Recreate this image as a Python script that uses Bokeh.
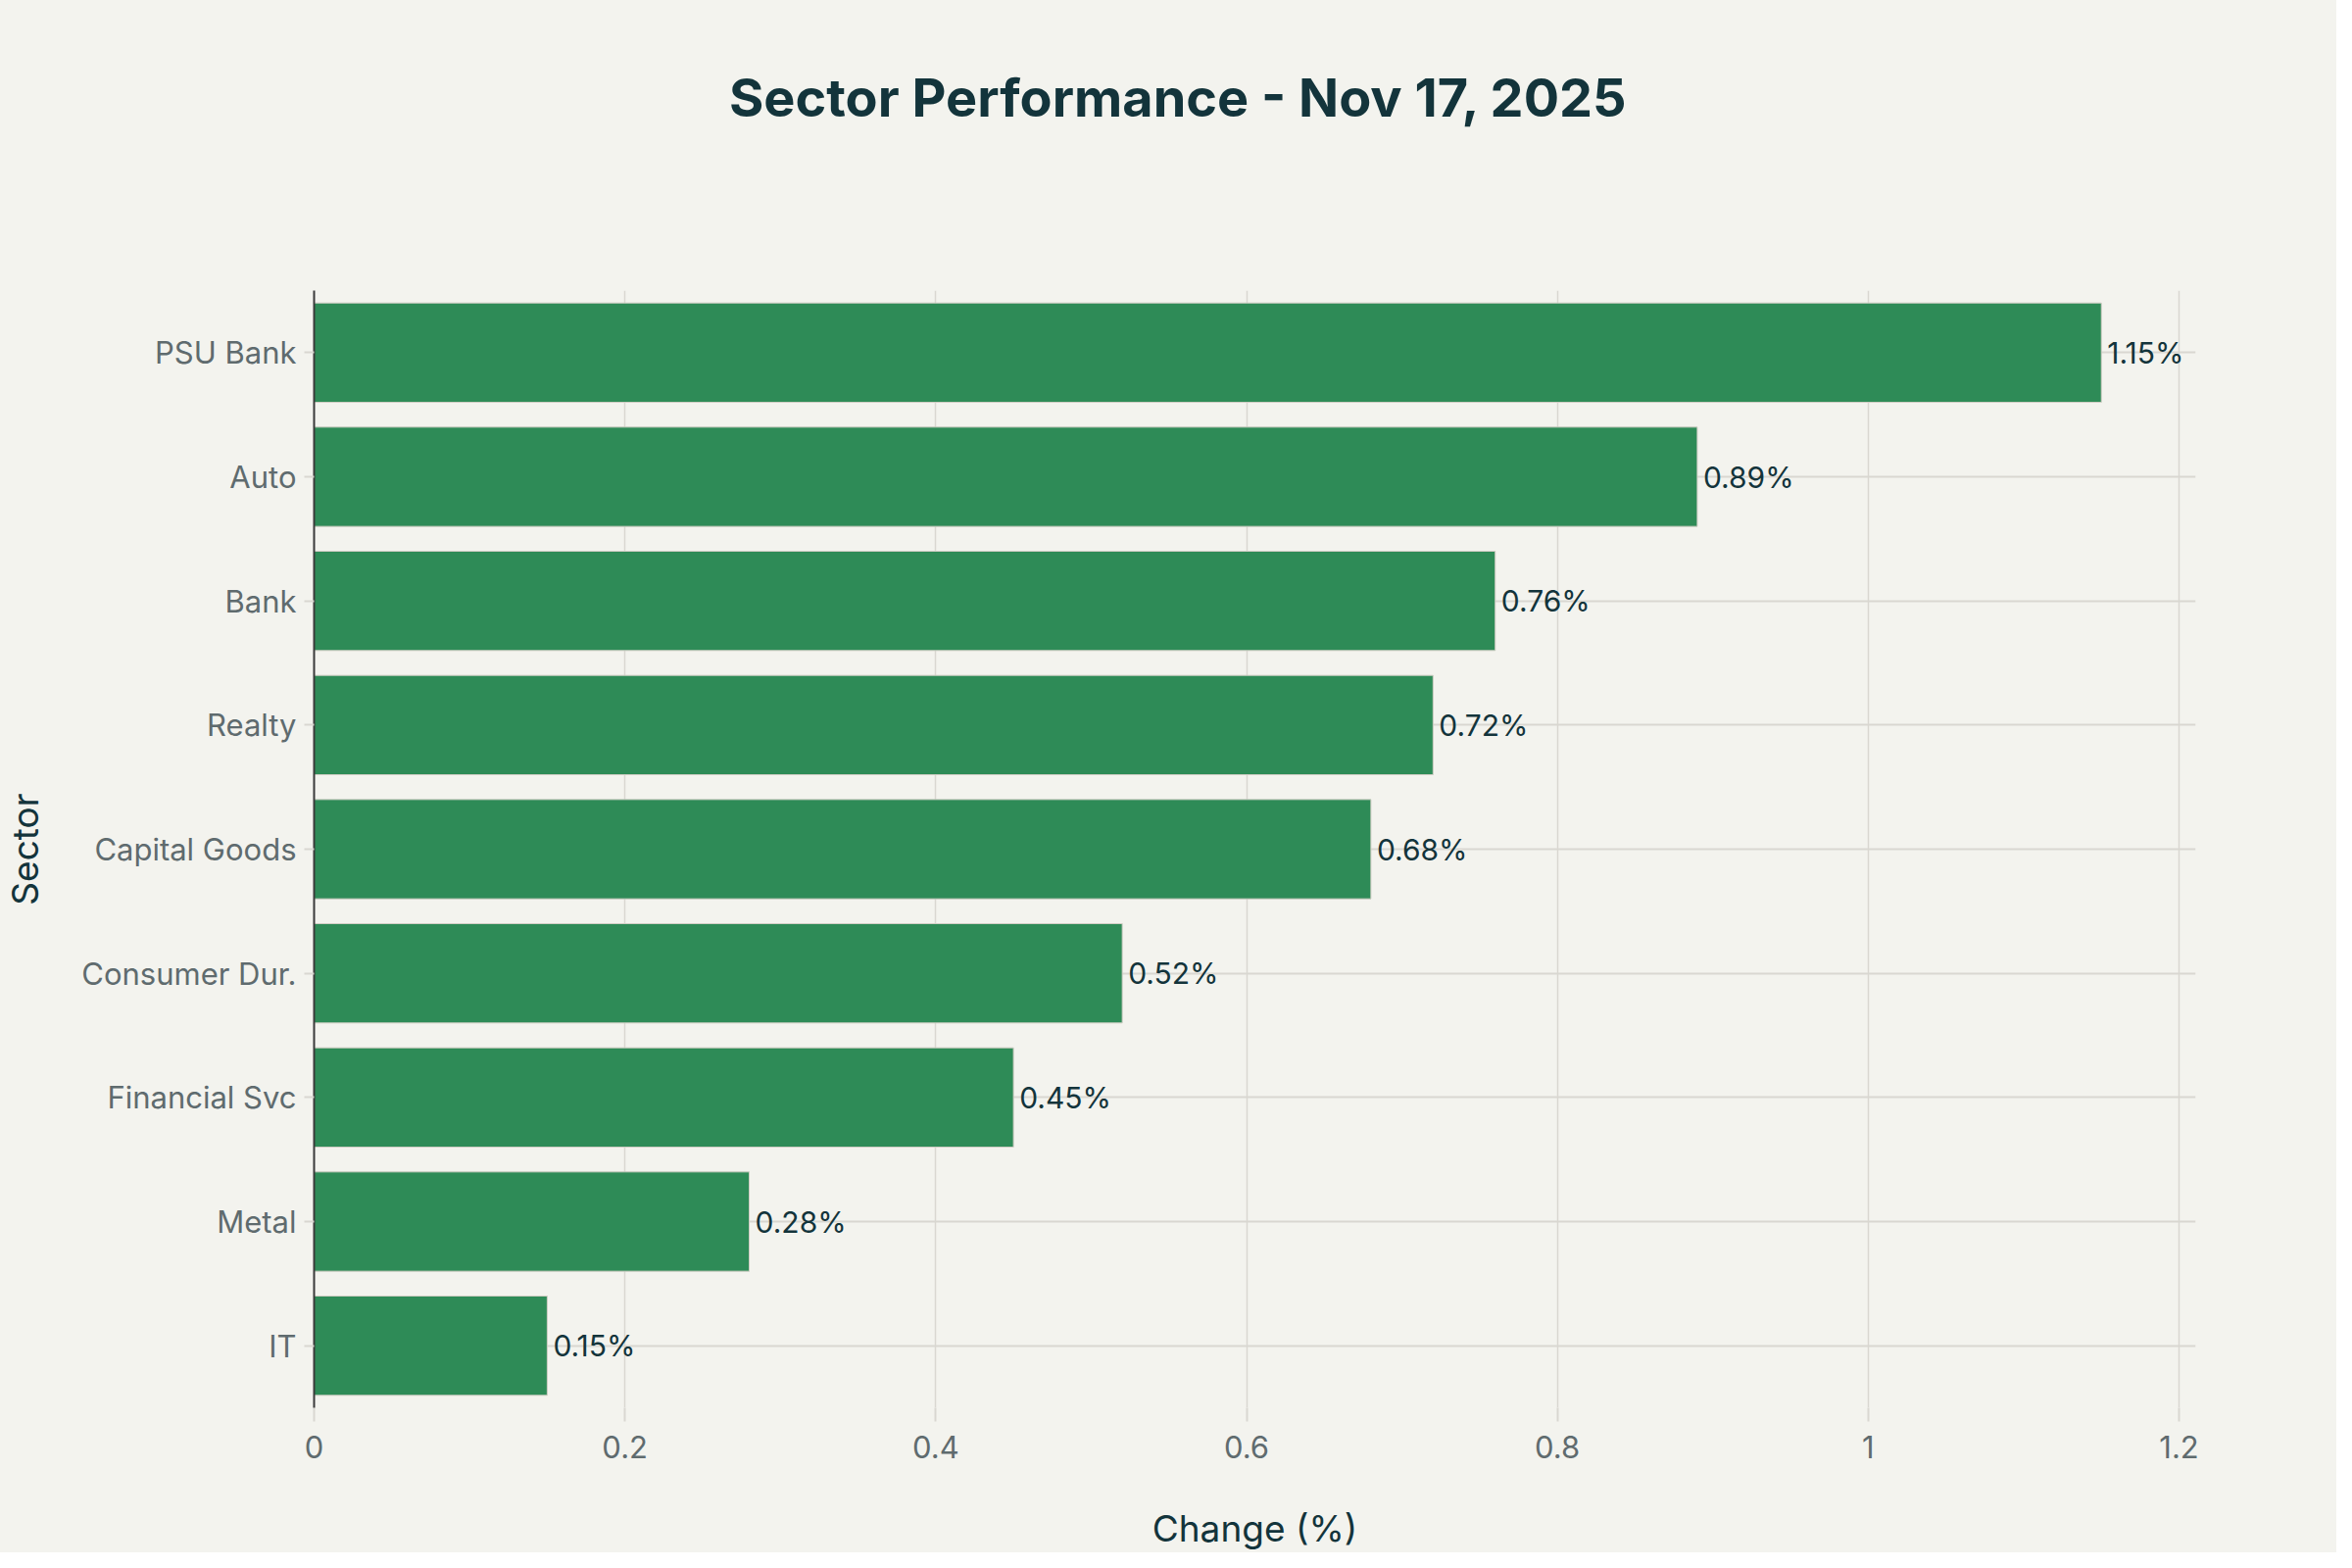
from bokeh.plotting import figure
from bokeh.models import ColumnDataSource, Range1d, Div
from bokeh.layouts import column
from bokeh.core.properties import value
from bokeh.embed import file_html
from bokeh.resources import INLINE

# data, bottom to top as drawn
sectors = ["IT", "Metal", "Financial Svc", "Consumer Dur.", "Capital Goods",
           "Realty", "Bank", "Auto", "PSU Bank"]
changes = [0.15, 0.28, 0.45, 0.52, 0.68, 0.72, 0.76, 0.89, 1.15]
labels = ["0.15%", "0.28%", "0.45%", "0.52%", "0.68%", "0.72%", "0.76%", "0.89%", "1.15%"]
x_ticks = [0, 0.2, 0.4, 0.6, 0.8, 1, 1.2]
title = "Sector Performance - Nov 17, 2025"

FONT = "Inter"
BG = "#f3f3ee"
DARK = "#13343b"
GREY = "#5f6b6e"
GRID = "#d9d7d1"

TITLE_H = 150

src = ColumnDataSource(data=dict(sector=sectors, change=changes, label=labels))

head = Div(text='<div style="margin:0;padding:68px 0 0 744px;font-family:Inter;'
                'font-size:54px;font-weight:bold;line-height:1.2;color:%s;'
                'white-space:nowrap;">%s</div>' % (DARK, title),
           width=2384, height=TITLE_H, styles={"background-color": BG, "margin": "0"})

p = figure(y_range=sectors, x_range=Range1d(0, 1.2107),
           width=2384, height=1584 - TITLE_H, output_backend="svg", toolbar_location=None,
           min_border_left=320, min_border_right=144, min_border_top=296 - TITLE_H,
           min_border_bottom=146,
           background_fill_color=BG, border_fill_color=BG, outline_line_color=None)

p.hbar(y="sector", right="change", height=0.8, source=src,
       fill_color="#2e8b57", line_color="#d0cdc4", line_width=1)

p.text(x="change", y="sector", text="label", source=src, x_offset=6,
       text_baseline="middle", text_align="left", text_font=value(FONT),
       text_font_size="30px", text_color=DARK)

# axes
p.xaxis.ticker = x_ticks
p.xaxis.major_label_overrides = {0: "0", 0.2: "0.2", 0.4: "0.4", 0.6: "0.6",
                                 0.8: "0.8", 1: "1", 1.2: "1.2"}
p.xaxis.axis_label = "Change (%)"
p.yaxis.axis_label = "Sector"
for ax in (p.xaxis, p.yaxis):
    ax.axis_label_text_font = FONT
    ax.axis_label_text_font_size = "37px"
    ax.axis_label_text_font_style = "normal"
    ax.axis_label_text_color = DARK
    ax.major_label_text_font = FONT
    ax.major_label_text_font_size = "31px"
    ax.major_label_text_color = GREY
    ax.major_tick_line_color = GRID
    ax.major_tick_line_width = 2
    ax.major_tick_in = 0
    ax.minor_tick_line_color = None
p.xaxis.axis_line_color = None
p.xaxis.major_tick_out = 14
p.xaxis.major_label_standoff = 14
p.xaxis.axis_label_standoff = 46
p.yaxis.axis_line_color = "#3a3a3a"
p.yaxis.axis_line_width = 2
p.yaxis.major_tick_out = 10
p.yaxis.major_label_standoff = 8
p.yaxis.axis_label_standoff = 32

p.xgrid.grid_line_color = GRID
p.xgrid.grid_line_width = 1.5
p.ygrid.grid_line_color = GRID
p.ygrid.grid_line_width = 2

page = column(head, p, spacing=0, styles={"background-color": BG})

open("out.html", "w").write(file_html(page, INLINE))
